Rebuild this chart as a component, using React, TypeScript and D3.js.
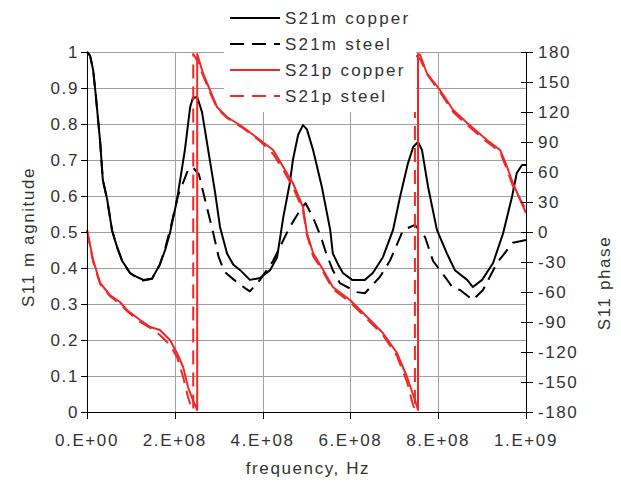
import React, { useEffect, useRef } from 'react';
import * as d3 from 'd3';

// frequency (Hz), value pairs
const s21mCopper: [number, number][] = [
  [0, 1.0], [0.07e8, 0.99], [0.14e8, 0.95], [0.2e8, 0.88], [0.3e8, 0.75], [0.36e8, 0.645],
  [0.46e8, 0.59], [0.57e8, 0.505], [0.68e8, 0.46], [0.8e8, 0.42], [0.98e8, 0.386],
  [1.14e8, 0.375], [1.28e8, 0.367], [1.48e8, 0.37], [1.66e8, 0.41], [1.78e8, 0.45],
  [1.89e8, 0.497], [2.05e8, 0.589], [2.23e8, 0.728], [2.35e8, 0.847], [2.41e8, 0.872],
  [2.51e8, 0.875], [2.62e8, 0.833], [2.76e8, 0.728], [2.92e8, 0.608], [3.03e8, 0.514],
  [3.19e8, 0.44], [3.33e8, 0.41], [3.49e8, 0.394], [3.71e8, 0.367], [3.94e8, 0.372],
  [4.17e8, 0.394], [4.33e8, 0.43], [4.47e8, 0.54], [4.62e8, 0.636], [4.69e8, 0.7],
  [4.81e8, 0.77], [4.92e8, 0.797], [5.01e8, 0.785], [5.15e8, 0.728], [5.35e8, 0.625],
  [5.54e8, 0.506], [5.6e8, 0.44], [5.72e8, 0.41], [5.83e8, 0.386], [6.04e8, 0.367],
  [6.33e8, 0.367], [6.51e8, 0.386], [6.74e8, 0.43], [6.97e8, 0.505], [7.13e8, 0.597],
  [7.31e8, 0.69], [7.43e8, 0.736], [7.54e8, 0.75], [7.63e8, 0.728], [7.77e8, 0.625],
  [7.97e8, 0.506], [8.2e8, 0.44], [8.38e8, 0.394], [8.66e8, 0.367], [8.79e8, 0.347],
  [9.0e8, 0.367], [9.25e8, 0.414], [9.48e8, 0.497], [9.68e8, 0.597], [9.79e8, 0.664],
  [9.91e8, 0.686], [10e8, 0.686],
];

const s21mSteel: [number, number][] = [
  [0, 1.0], [0.07e8, 0.99], [0.14e8, 0.95], [0.2e8, 0.88], [0.3e8, 0.75], [0.36e8, 0.645],
  [0.46e8, 0.59], [0.57e8, 0.505], [0.68e8, 0.46], [0.8e8, 0.42], [0.98e8, 0.386],
  [1.14e8, 0.372], [1.28e8, 0.365], [1.48e8, 0.37], [1.66e8, 0.41], [1.78e8, 0.455],
  [1.9e8, 0.51], [2.07e8, 0.6], [2.3e8, 0.672], [2.41e8, 0.68], [2.55e8, 0.66],
  [2.69e8, 0.589], [2.87e8, 0.5], [3.0e8, 0.43], [3.13e8, 0.39], [3.35e8, 0.367],
  [3.6e8, 0.344], [3.71e8, 0.335], [3.94e8, 0.367], [4.24e8, 0.42], [4.62e8, 0.514],
  [4.85e8, 0.56], [4.98e8, 0.58], [5.15e8, 0.54], [5.33e8, 0.486], [5.45e8, 0.44],
  [5.6e8, 0.394], [5.76e8, 0.358], [6.15e8, 0.333], [6.33e8, 0.33], [6.67e8, 0.375],
  [6.9e8, 0.42], [7.2e8, 0.505], [7.47e8, 0.52], [7.7e8, 0.486], [7.88e8, 0.42],
  [8.09e8, 0.386], [8.34e8, 0.344], [8.5e8, 0.339], [8.79e8, 0.311], [9.02e8, 0.339],
  [9.34e8, 0.414], [9.7e8, 0.47], [10e8, 0.478],
];

const s21pCopper: [number, number][] = [
  [0, 2], [0.14e8, -28], [0.3e8, -51], [0.52e8, -63], [0.75e8, -70], [0.91e8, -78],
  [1.21e8, -88], [1.44e8, -95], [1.66e8, -98], [1.89e8, -108], [2.05e8, -121],
  [2.19e8, -135], [2.3e8, -155], [2.41e8, -168], [2.51e8, -178], [2.51e8, 178],
  [2.53e8, 175], [2.64e8, 159], [2.8e8, 142], [2.96e8, 125], [3.19e8, 115], [3.55e8, 105],
  [3.94e8, 92], [4.24e8, 82], [4.47e8, 65], [4.69e8, 49], [4.92e8, 25], [5.01e8, -1],
  [5.15e8, -21], [5.38e8, -38], [5.6e8, -55], [5.99e8, -68], [6.38e8, -85], [6.74e8, -101],
  [7.06e8, -121], [7.29e8, -145], [7.47e8, -168], [7.54e8, -178], [7.54e8, 178],
  [7.59e8, 177], [7.74e8, 159], [8.04e8, 142], [8.34e8, 122], [8.66e8, 109], [9.11e8, 92],
  [9.41e8, 82], [9.57e8, 65], [9.7e8, 49], [10e8, 19],
];

const s21pSteel: [number, number][] = [
  [0, 2], [0.14e8, -30], [0.3e8, -52], [0.52e8, -64], [0.75e8, -72], [0.91e8, -79],
  [1.21e8, -90], [1.44e8, -96], [1.66e8, -103], [1.89e8, -113], [2.05e8, -125],
  [2.19e8, -145], [2.3e8, -165], [2.38e8, -176], [2.42e8, -178], [2.42e8, 178],
  [2.5e8, 172], [2.64e8, 157], [2.8e8, 140], [2.96e8, 124], [3.19e8, 114], [3.55e8, 104],
  [3.94e8, 91], [4.24e8, 78], [4.47e8, 62], [4.69e8, 45], [4.92e8, 22], [5.01e8, -3],
  [5.15e8, -24], [5.38e8, -40], [5.6e8, -57], [5.99e8, -70], [6.38e8, -87], [6.74e8, -103],
  [7.06e8, -124], [7.29e8, -150], [7.42e8, -172], [7.47e8, -178], [7.47e8, 178],
  [7.6e8, 172], [7.74e8, 158], [8.04e8, 140], [8.34e8, 120], [8.66e8, 107], [9.11e8, 90],
  [9.41e8, 80], [9.57e8, 62], [9.7e8, 46], [10e8, 22],
];

const xTicks = [0, 2e8, 4e8, 6e8, 8e8, 1e9];
const magTicks = [0, 0.1, 0.2, 0.3, 0.4, 0.5, 0.6, 0.7, 0.8, 0.9, 1];
const phaseTicks = [-180, -150, -120, -90, -60, -30, 0, 30, 60, 90, 120, 150, 180];
const legendLabels = ['S21m copper', 'S21m steel', 'S21p copper', 'S21p steel'];

const RED = '#f02828';
const FONT = '"Liberation Sans", Arial, sans-serif';

const sci = (d: number) => {
  const e = d === 0 ? 0 : Math.floor(Math.log10(d));
  const m = d / Math.pow(10, e);
  return `${Math.round(m)}.E+${String(e).padStart(2, '0')}`;
};

const App = () => {
  const ref = useRef<SVGSVGElement>(null);

  useEffect(() => {
    const svg = d3.select(ref.current);
    svg.selectAll('*').remove();

    const left = 87, right = 526, top = 52, bottom = 412;
    const x = d3.scaleLinear().domain([0, 1e9]).range([left, right]);
    const yMag = d3.scaleLinear().domain([0, 1]).range([bottom, top]);
    const yPh = d3.scaleLinear().domain([-180, 180]).range([bottom, top]);

    const txt = (s: d3.Selection<SVGTextElement, any, any, any>, ls = 1.6) =>
      s.attr('font-family', FONT).attr('font-size', 17).attr('letter-spacing', ls).attr('fill', '#333');

    // grid
    svg.append('g').selectAll('line').data(magTicks.slice(1)).enter().append('line')
      .attr('x1', left).attr('x2', right)
      .attr('y1', d => yMag(d) + 0.5).attr('y2', d => yMag(d) + 0.5)
      .attr('stroke', '#a0a0a0');
    svg.append('g').selectAll('line').data(xTicks.slice(1, -1)).enter().append('line')
      .attr('x1', d => Math.round(x(d)) + 0.5).attr('x2', d => Math.round(x(d)) + 0.5)
      .attr('y1', top).attr('y2', bottom)
      .attr('stroke', '#a0a0a0');

    // series
    const magLine = d3.line<[number, number]>().x(d => x(d[0])).y(d => yMag(d[1]));
    const phLine = d3.line<[number, number]>().x(d => x(d[0])).y(d => yPh(d[1]));
    const series = [
      { data: s21mSteel, gen: magLine, color: '#000', dash: '14 8' },
      { data: s21mCopper, gen: magLine, color: '#000', dash: null },
      { data: s21pSteel, gen: phLine, color: RED, dash: '14 8' },
      { data: s21pCopper, gen: phLine, color: RED, dash: null },
    ];
    series.forEach(s => {
      svg.append('path')
        .attr('d', s.gen(s.data))
        .attr('fill', 'none')
        .attr('stroke', s.color)
        .attr('stroke-width', 2)
        .attr('stroke-linejoin', 'round')
        .attr('stroke-dasharray', s.dash);
    });

    // axes
    const ax = svg.append('g').attr('stroke', '#000').attr('stroke-width', 1);
    ax.append('line').attr('x1', left + 0.5).attr('x2', left + 0.5).attr('y1', top).attr('y2', bottom + 0.5);
    ax.append('line').attr('x1', right + 0.5).attr('x2', right + 0.5).attr('y1', top).attr('y2', bottom + 0.5);
    ax.append('line').attr('x1', left).attr('x2', right + 1).attr('y1', bottom + 0.5).attr('y2', bottom + 0.5);
    ax.selectAll('.lt').data(magTicks).enter().append('line')
      .attr('x1', left - 6).attr('x2', left)
      .attr('y1', d => yMag(d) + 0.5).attr('y2', d => yMag(d) + 0.5);
    ax.selectAll('.rt').data(phaseTicks).enter().append('line')
      .attr('x1', right - 5).attr('x2', right + 7)
      .attr('y1', d => yPh(d) + 0.5).attr('y2', d => yPh(d) + 0.5);
    ax.selectAll('.bt').data(xTicks).enter().append('line')
      .attr('x1', d => Math.round(x(d)) + 0.5).attr('x2', d => Math.round(x(d)) + 0.5)
      .attr('y1', bottom).attr('y2', bottom + 7);

    // tick labels
    svg.append('g').selectAll('text').data(magTicks).enter().append('text')
      .attr('x', 79).attr('y', d => yMag(d)).attr('dy', '0.35em').attr('text-anchor', 'end')
      .text(d => String(+d.toFixed(1))).call(txt);
    svg.append('g').selectAll('text').data(phaseTicks).enter().append('text')
      .attr('x', 538).attr('y', d => yPh(d)).attr('dy', '0.35em').attr('text-anchor', 'start')
      .text(d => String(d)).call(txt);
    svg.append('g').selectAll('text').data(xTicks).enter().append('text')
      .attr('x', d => x(d)).attr('y', 446).attr('text-anchor', 'middle')
      .text(d => sci(d)).call(txt);

    // titles
    svg.append('text').attr('x', 308).attr('y', 474).attr('text-anchor', 'middle')
      .text('frequency, Hz').call(txt);
    svg.append('text').attr('transform', 'translate(34,237) rotate(-90)').attr('text-anchor', 'middle')
      .text('S11 m agnitude').call(txt);
    svg.append('text').attr('transform', 'translate(610,283) rotate(-90)').attr('text-anchor', 'middle')
      .text('S11 phase').call(txt);

    // legend
    const lg = svg.append('g');
    lg.append('rect').attr('x', 224).attr('y', 0).attr('width', 192).attr('height', 112).attr('fill', '#fff');
    const styles = [
      { color: '#000', dash: null }, { color: '#000', dash: '14 8' },
      { color: RED, dash: null }, { color: RED, dash: '14 8' },
    ];
    legendLabels.forEach((label, i) => {
      const cy = 18 + i * 26;
      lg.append('line').attr('x1', 230).attr('x2', 280).attr('y1', cy).attr('y2', cy)
        .attr('stroke', styles[i].color).attr('stroke-width', 2).attr('stroke-dasharray', styles[i].dash);
      lg.append('text').attr('x', 285).attr('y', cy).attr('dy', '0.35em').text(label).call(txt, 2.2);
    });
  }, []);

  return (
    <svg ref={ref} width={621} height={485} style={{ position: 'absolute', left: 0, top: 0, background: '#fff' }} />
  );
};

export default App;
